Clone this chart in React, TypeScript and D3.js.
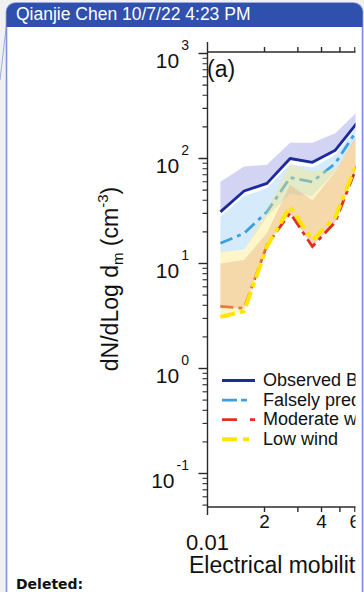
import React from "react";
import * as d3 from "d3";

// Mobility bins (x) and size-distribution statistics for each group (dN/dLog dm, cm^-3)
const mobility = [0.0117, 0.0156, 0.0206, 0.0273, 0.0358, 0.0473, 0.0625];
const observedMedian = [31, 49, 58, 100, 92, 120, 225];
const observedUpper = [60, 84, 87, 141, 141, 174, 285];
const falselyMedian = [15.6, 19.4, 31, 66, 60, 90, 194];
const falselyLower = [12.8, 13.5, 28, 46, 44, 76, 170];
const falselyUpper = [28, 44, 52, 88, 82, 108, 210];
const moderateMedian = [3.9, 3.75, 15, 30.3, 14.5, 24.9, 91];
const moderateUpper = [10, 10.8, 19.5, 56, 40, 75, 175];
const lowMedian = [3.1, 3.5, 14.5, 34.7, 16.7, 27.7, 97];
const lowUpper = [12.9, 13.4, 32, 87, 75, 78, 167];

const legendLabels = ["Observed BPE", "Falsely predicted", "Moderate wind", "Low wind"];
const yDecades = [-1, 0, 1, 2, 3];
const xMinorTicks = [0.02, 0.03, 0.04, 0.05, 0.06];
const xLabelValues = [0.02, 0.04, 0.06];
const xLabelTexts = ["2", "4", "6"];

const FONT = "Liberation Sans, Arial, Helvetica, sans-serif";

export default function App() {
  const x = d3.scaleLog().domain([0.01, 0.1]).range([207.5, 396.9]);
  const y = d3.scaleLog().domain([0.1, 1000]).range([473.5, 53.5]);

  const plotTop = 52;
  const plotBottom = 507;
  const axisX = x(0.01);

  const line = (vals: number[]) =>
    d3
      .line<number>()
      .x((_, i) => x(mobility[i]))
      .y((v) => y(v))(vals) as string;

  const band = (lo: number[], hi: number[]) =>
    d3
      .area<number>()
      .x((_, i) => x(mobility[i]))
      .y0((_, i) => y(lo[i]))
      .y1((_, i) => y(hi[i]))(mobility) as string;

  // minor y ticks (2..9 per decade) inside the plot range
  const yMinor: number[] = [];
  for (let e = -2; e <= 3; e++) {
    for (let m = 2; m <= 9; m++) {
      const v = m * Math.pow(10, e);
      const py = y(v);
      if (py >= plotTop && py <= plotBottom) yMinor.push(v);
    }
  }

  const legendStyles = [
    { color: "#1b2a9c", width: 2.8, dash: "none" },
    { color: "#3d9fe0", width: 2.8, dash: "15,4,6,30" },
    { color: "#e0301e", width: 2.8, dash: "15,13,5,30" },
    { color: "#ffe600", width: 4, dash: "15,6,6,30" },
  ];

  return (
    <svg
      width={364}
      height={592}
      style={{ position: "absolute", left: 0, top: 0, background: "#f1f1f1" }}
      fontFamily={FONT}
    >
      <defs>
        <clipPath id="chartClip">
          <rect x={0} y={30} width={355.5} height={562} />
        </clipPath>
      </defs>

      {/* comment balloon */}
      <line x1={0} y1={80} x2={6.5} y2={24} stroke="#9aaae0" strokeWidth={1} />
      <rect x={6.5} y={3} width={356} height={600} rx={9} fill="#ffffff" stroke="#7d92da" strokeWidth={1.6} />
      <path
        d="M6.5,27 L6.5,12 A9,9 0 0 1 15.5,3 L353.5,3 A9,9 0 0 1 362.5,12 L362.5,27 Z"
        fill="#3050ae"
      />
      <text x={16} y={20} fill="#ffffff" fontSize={17.5}>
        Qianjie Chen 10/7/22 4:23 PM
      </text>
      <text x={16} y={589} fill="#111" fontSize={14} fontWeight="bold" fontFamily="DejaVu Sans, Verdana, sans-serif">
        Deleted:
      </text>

      <g clipPath="url(#chartClip)">
        {/* data bands and lines */}
        <path d={band(observedMedian, observedUpper)} fill="rgb(110,110,220)" fillOpacity={0.3} />
        <path d={band(falselyLower, falselyUpper)} fill="rgb(100,180,240)" fillOpacity={0.27} />
        <path d={line(observedMedian)} fill="none" stroke="#1b2a9c" strokeWidth={2.8} strokeLinejoin="round" />
        <path d={line(falselyMedian)} fill="none" stroke="#3d9fe0" strokeWidth={2.8} strokeDasharray="13,5,4,5" />
        <path d={band(moderateMedian, moderateUpper)} fill="rgb(225,95,95)" fillOpacity={0.3} />
        <path d={line(moderateMedian)} fill="none" stroke="#e0301e" strokeWidth={2.8} strokeDasharray="13,5,4,5" />
        <path d={band(lowMedian, lowUpper)} fill="rgb(248,232,117)" fillOpacity={0.4} />
        <path d={line(lowMedian)} fill="none" stroke="#ffe600" strokeWidth={4} strokeDasharray="15,5,5,5" />

        {/* axes */}
        <g stroke="#2a2a2a" strokeWidth={1.4}>
          <line x1={axisX} y1={42} x2={axisX} y2={515} />
          <line x1={axisX} y1={plotTop} x2={400} y2={plotTop} />
          <line x1={axisX} y1={plotBottom} x2={400} y2={plotBottom} />
          {xMinorTicks.map((v) => (
            <g key={v}>
              <line x1={x(v)} x2={x(v)} y1={plotTop} y2={plotTop - 5} />
              <line x1={x(v)} x2={x(v)} y1={plotBottom} y2={plotBottom + 5} />
            </g>
          ))}
          {yDecades.map((e) => (
            <line key={e} x1={axisX} x2={axisX - 9} y1={y(Math.pow(10, e))} y2={y(Math.pow(10, e))} />
          ))}
          {yMinor.map((v) => (
            <line key={v} x1={axisX} x2={axisX - 5} y1={y(v)} y2={y(v)} strokeWidth={1.1} />
          ))}
        </g>

        {/* y tick labels */}
        {yDecades.map((e) => (
          <text key={e} x={189} y={y(Math.pow(10, e)) + 14} textAnchor="end" fill="#111" fontSize={21}>
            10
            <tspan fontSize={14} dx={2} dy={-17.5}>
              {String(e)}
            </tspan>
          </text>
        ))}

        {/* x tick labels */}
        {xLabelValues.map((v, i) => (
          <text key={v} x={x(v)} y={528} textAnchor="middle" fill="#111" fontSize={19}>
            {xLabelTexts[i]}
          </text>
        ))}
        <text x={x(0.01)} y={550} textAnchor="middle" fill="#111" fontSize={22}>
          0.01
        </text>
        <text x={189} y={573} fill="#111" fontSize={23}>
          Electrical mobility diameter (µm)
        </text>

        {/* y axis title */}
        <text transform="translate(118,279) rotate(-90)" textAnchor="middle" fill="#111" fontSize={23}>
          dN/dLog d
          <tspan fontSize={15} dy={5}>
            m
          </tspan>
          <tspan dy={-5}> (cm</tspan>
          <tspan fontSize={15} dy={-10}>
            -3
          </tspan>
          <tspan dy={10}>)</tspan>
        </text>

        <text x={207} y={77} fill="#111" fontSize={23}>
          (a)
        </text>

        {/* legend */}
        {legendLabels.map((label, i) => {
          const base = 386 + i * 19.6;
          const s = legendStyles[i];
          return (
            <g key={label}>
              <line
                x1={222}
                x2={255}
                y1={base - 5.5}
                y2={base - 5.5}
                stroke={s.color}
                strokeWidth={s.width}
                strokeDasharray={s.dash}
              />
              <text x={263} y={base} fill="#111" fontSize={18}>
                {label}
              </text>
            </g>
          );
        })}
      </g>
    </svg>
  );
}
